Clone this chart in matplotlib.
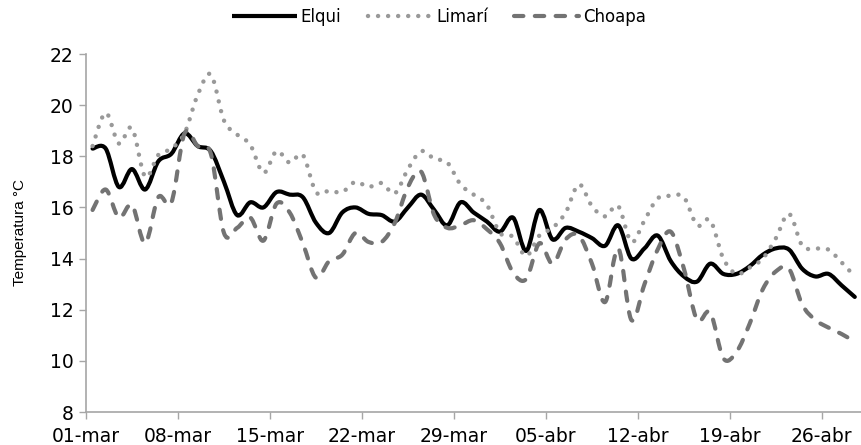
import matplotlib
matplotlib.use("Agg")
import matplotlib.pyplot as plt
from matplotlib.path import Path
from matplotlib.patches import PathPatch
from matplotlib.lines import Line2D
import numpy as np

# daily mean temperature, 01-mar .. 28-abr
elqui = [18.3, 18.3, 16.8, 17.5, 16.7, 17.8, 18.1, 18.9, 18.4, 18.2,
         17.0, 15.7, 16.2, 16.0, 16.6, 16.5, 16.4, 15.4, 15.0, 15.8,
         16.0, 15.75, 15.7, 15.45, 16.0, 16.5, 15.9, 15.3, 16.2, 15.8,
         15.45, 15.05, 15.6, 14.3, 15.9, 14.75, 15.2, 15.05, 14.8, 14.5,
         15.3, 14.0, 14.4, 14.9, 13.9, 13.3, 13.1, 13.8, 13.4, 13.4,
         13.7, 14.15, 14.4, 14.35, 13.6, 13.3, 13.4, 12.95, 12.5]
limari = [18.4, 19.7, 18.5, 19.1, 17.2, 18.05, 18.3, 18.9, 20.4, 21.2,
          19.4, 18.85, 18.45, 17.35, 18.2, 17.75, 18.05, 16.6, 16.65, 16.6,
          17.0, 16.8, 16.95, 16.55, 17.5, 18.2, 17.9, 17.75, 16.9, 16.5,
          16.1, 15.0, 14.85, 14.1, 14.9, 15.2, 15.8, 16.9, 16.05, 15.65,
          16.05, 14.65, 15.5, 16.35, 16.45, 16.4, 15.3, 15.5, 14.0, 13.4,
          13.65, 14.0, 14.8, 15.75, 14.5, 14.4, 14.35, 13.85, 13.3]
choapa = [15.9, 16.7, 15.6, 16.1, 14.6, 16.4, 16.2, 18.9, 18.4, 18.1,
          15.0, 15.2, 15.6, 14.7, 16.15, 15.8, 14.6, 13.25, 13.9, 14.15,
          15.0, 14.65, 14.65, 15.4, 16.8, 17.4, 15.7, 15.2, 15.3, 15.5,
          15.15, 14.6, 13.45, 13.2, 14.6, 13.8, 14.75, 14.9, 13.8, 12.3,
          14.4, 11.6, 13.0, 14.35, 15.05, 13.6, 11.6, 11.9, 10.1, 10.35,
          11.45, 12.8, 13.5, 13.6, 12.2, 11.6, 11.3, 11.05, 10.75]
tick_labels = ["01-mar", "08-mar", "15-mar", "22-mar", "29-mar",
               "05-abr", "12-abr", "19-abr", "26-abr"]


def smooth_path(x, y):
    # catmull-rom style bezier, like excel's smoothed line
    pts = np.column_stack([x, y])
    verts = [pts[0]]
    codes = [Path.MOVETO]
    n = len(pts)
    for i in range(n - 1):
        p0 = pts[max(i - 1, 0)]
        p1 = pts[i]
        p2 = pts[i + 1]
        p3 = pts[min(i + 2, n - 1)]
        c1 = p1 + (p2 - p0) / 6.0
        c2 = p2 - (p3 - p1) / 6.0
        verts += [c1, c2, p2]
        codes += [Path.CURVE4] * 3
    return Path(verts, codes)


font = ['Liberation Sans Narrow', 'DejaVu Sans']
fig = plt.figure(figsize=(8.62, 4.45), dpi=100)
ax = fig.add_axes([86 / 862, 1 - 412 / 445, 1 - 86 / 862, (412 - 54) / 445])

x = np.arange(len(elqui)) + 0.5
styles = [
    (elqui, 'Elqui', '#000000', 3.0, '-'),
    (limari, 'Limarí', '#999999', 3.2, (0, (0.01, 2.25))),
    (choapa, 'Choapa', '#737373', 3.0, (0, (2.25, 2.75))),
]
handles = []
for vals, name, col, lw, ls in styles:
    p = PathPatch(smooth_path(x, vals), fill=False, edgecolor=col, lw=lw,
                  linestyle=ls, capstyle='round', joinstyle='round')
    ax.add_patch(p)
    h = Line2D([], [], color=col, lw=lw, linestyle=ls,
               solid_capstyle='butt', dash_capstyle='round', label=name)
    handles.append(h)

ax.set_xlim(0, 59.05)
ax.set_ylim(8, 22)
ax.set_xticks(np.arange(0, 57, 7))
ax.set_xticklabels(tick_labels, family=font, fontsize=13.5)
ax.set_yticks(np.arange(8, 23, 2))
ax.set_yticklabels([str(v) for v in range(8, 23, 2)], family=font, fontsize=13.5)
ax.tick_params(axis='both', direction='out', length=5, width=1, color='#a6a6a6',
               labelcolor='black')
ax.tick_params(axis='x', pad=6)
ax.tick_params(axis='y', pad=4)
for s in ['top', 'right']:
    ax.spines[s].set_visible(False)
for s in ['left', 'bottom']:
    ax.spines[s].set_color('#a6a6a6')
    ax.spines[s].set_linewidth(1.2)

fig.text(20 / 862, 1 - 232 / 445, 'Temperatura °C', rotation=90, va='center',
         ha='center', family=['Liberation Sans', 'DejaVu Sans'], fontsize=11)

fig.legend(handles=handles, loc='center', bbox_to_anchor=(0.509, 0.962), ncol=3,
           frameon=False, handlelength=3.9, handletextpad=0.2,
           columnspacing=1.6, prop={'family': ['DejaVu Sans'], 'size': 12})

fig.savefig('out.png', dpi=100)
